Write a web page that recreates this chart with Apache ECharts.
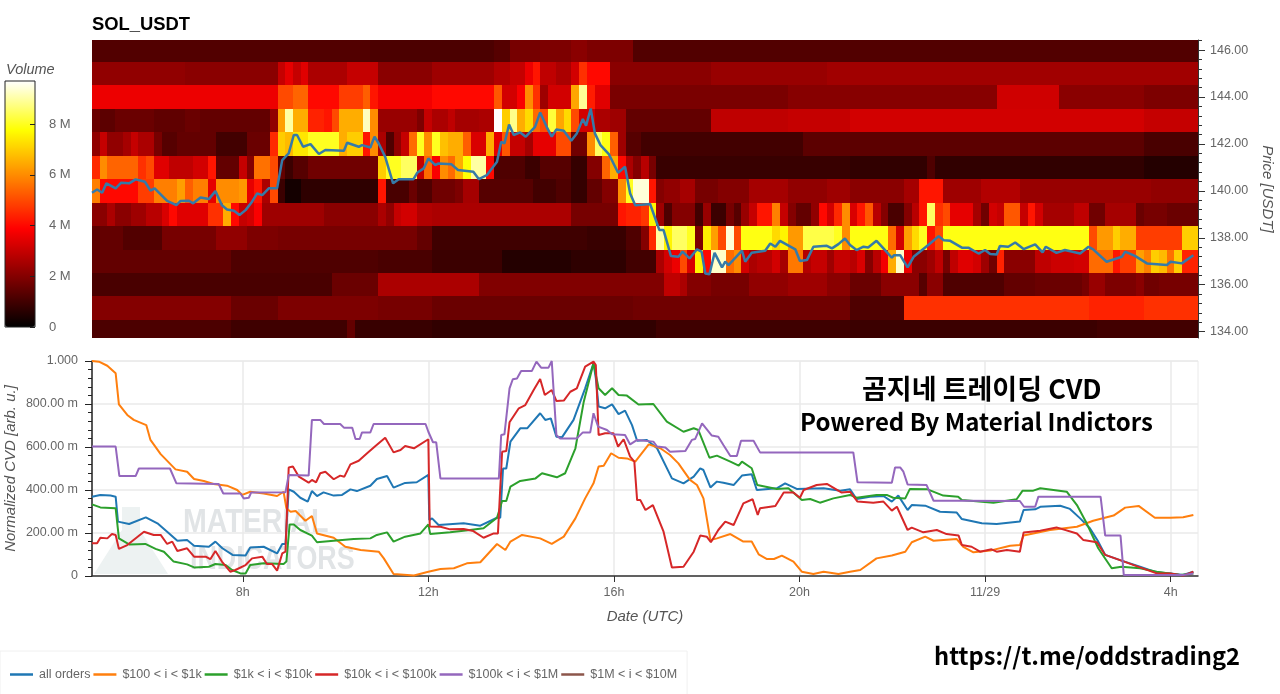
<!DOCTYPE html>
<html>
<head>
    <meta charset="utf-8">
    <title>SOL_USDT CVD</title>
    <script src="https://cdn.jsdelivr.net/npm/echarts@6/dist/echarts.min.js"></script>
    <style>
        html, body { margin: 0; padding: 0; background: #fff; }
    </style>
</head>
<body>
    <div id="main" style="width: 1280px;height:694px;"></div>
    <script>
        // hours are counted from 11/28 00:00 UTC, so 24 = 11/29 and 28 = 4h
        var xStart = 4.75, xEnd = 28.59;
        var xTicks = [8, 12, 16, 20, 24, 28];
        var xTickLabels = ['8h', '12h', '16h', '20h', '11/29', '4h'];
        var priceTicks = [134, 136, 138, 140, 142, 144, 146];
        var priceMinorTicks = [134, 134.4, 134.8, 135.2, 135.6, 136, 136.4, 136.8, 137.2, 137.6, 138, 138.4, 138.8, 139.2, 139.6, 140, 140.4, 140.8, 141.2, 141.6, 142, 142.4, 142.8, 143.2, 143.6, 144, 144.4, 144.8, 145.2, 145.6, 146, 146.4];
        var volumeTicks = [0, 2, 4, 6, 8];
        var legendNames = ['all orders', '$100 < i < $1k', '$1k < i < $10k', '$10k < i < $100k', '$100k < i < $1M', '$1M < i < $10M'];
        var lineColors = ['#1f77b4', '#ff7f0e', '#2ca02c', '#d62728', '#9467bd', '#8c564b'];

        // volume in millions per price level, as [first 10 minute column, volume] runs
        var vol146 = [[0,1.25],[36,1.15],[52,1.3],[54,1.8],[58,1.9],[62,2.1],[64,1.9],[70,1.25]];
        var vol145 = [[0,2.2],[12,2.1],[24,3.0],[25,3.5],[26,3.0],[27,3.4],[28,2.6],[33,3.0],[37,2.1],[44,2.4],[52,2.7],[54,3.0],[56,3.6],[57,4.2],[58,2.9],[60,2.6],[62,3.2],[63,4.6],[64,4.0],[67,2.1],[80,2.3],[95,2.45]];
        var vol144 = [[0,3.6],[24,5.0],[26,5.4],[28,4.0],[32,4.8],[35,5.3],[36,4.2],[37,3.7],[44,4.0],[52,5.2],[53,3.2],[55,3.8],[56,6.0],[57,4.6],[58,2.4],[59,3.2],[62,6.4],[63,8.9],[64,4.3],[65,3.4],[67,1.85],[90,2.05],[117,3.15],[125,2.1],[136,1.9]];
        var vol143 = [[0,1.6],[1,1.4],[3,1.6],[8,1.45],[12,1.6],[14,1.5],[23,2.2],[24,6.3],[25,9.0],[26,6.5],[28,4.4],[30,4.2],[31,5.0],[32,6.5],[35,9.2],[36,6.0],[37,2.3],[42,1.9],[43,3.0],[44,2.6],[46,2.9],[47,2.5],[50,2.6],[52,9.7],[53,7.0],[54,8.8],[55,6.5],[56,7.2],[57,5.5],[58,5.0],[59,8.2],[60,6.4],[61,7.2],[62,5.0],[63,3.2],[65,2.6],[67,2.4],[69,1.5],[80,2.9],[90,3.0],[98,3.2],[136,3.0]];
        var vol142 = [[0,2.2],[1,3.0],[2,2.2],[4,2.5],[5,3.0],[6,2.6],[8,1.8],[9,1.3],[11,1.5],[16,1.0],[20,1.6],[23,4.5],[24,7.0],[25,6.7],[26,7.4],[28,8.0],[32,6.5],[33,7.0],[35,4.2],[36,6.0],[37,2.6],[38,1.2],[39,2.2],[40,3.0],[41,5.5],[42,8.0],[43,6.0],[44,8.0],[45,6.8],[46,6.5],[48,5.3],[49,3.3],[51,6.5],[52,3.5],[53,5.2],[54,3.0],[56,2.5],[57,3.5],[60,5.0],[62,1.7],[64,6.0],[65,8.5],[66,7.9],[67,5.3],[68,2.4],[69,1.3],[71,1.0],[92,1.4],[136,1.1]];
        var vol141 = [[0,4.5],[1,6.0],[2,5.4],[6,4.6],[7,5.0],[8,3.4],[10,2.9],[13,3.2],[15,4.2],[16,1.5],[19,3.0],[20,2.0],[21,5.6],[23,5.0],[24,1.5],[25,0.9],[26,1.3],[28,1.7],[37,7.0],[38,8.0],[40,8.5],[42,3.0],[43,5.5],[44,3.8],[45,6.0],[46,5.5],[47,6.5],[48,7.8],[49,9.0],[51,4.0],[52,1.2],[56,0.9],[58,1.3],[62,0.8],[64,2.0],[66,5.4],[67,6.5],[68,4.0],[69,2.6],[70,2.0],[71,2.8],[72,1.8],[73,0.85],[98,0.75],[108,1.2],[109,0.75],[136,0.55]];
        var vol140 = [[0,5.8],[1,4.0],[6,4.8],[8,5.8],[11,6.3],[12,5.3],[13,5.8],[15,3.5],[16,6.0],[19,6.2],[20,3.5],[21,4.2],[22,2.6],[23,5.0],[24,0.9],[25,0.3],[27,0.7],[37,4.2],[38,1.1],[41,1.6],[42,1.2],[44,1.7],[47,1.9],[48,2.5],[50,1.3],[57,1.0],[60,1.2],[62,0.8],[64,1.5],[66,2.0],[68,6.0],[69,8.0],[70,9.4],[72,4.2],[73,2.0],[74,2.2],[76,2.5],[78,1.8],[81,2.0],[85,2.5],[90,2.2],[95,2.4],[98,2.1],[105,2.5],[107,4.2],[110,2.4],[115,2.7],[120,2.3],[137,2.2]];
        var vol139 = [[0,2.1],[2,2.6],[3,2.1],[5,2.4],[7,2.8],[9,3.3],[10,4.0],[11,3.4],[15,4.6],[17,6.5],[18,4.0],[19,3.0],[20,3.2],[21,3.8],[22,2.4],[30,2.1],[37,2.6],[38,2.2],[39,3.0],[40,3.2],[42,2.7],[44,2.6],[62,1.8],[68,4.2],[69,4.4],[71,4.7],[72,7.6],[73,2.4],[74,1.2],[75,2.0],[78,1.0],[79,2.3],[80,0.9],[82,1.8],[83,1.3],[84,2.3],[85,3.0],[86,4.2],[88,5.8],[89,3.0],[90,2.0],[91,1.5],[93,2.2],[94,4.0],[95,3.2],[96,4.5],[97,6.0],[98,3.3],[99,4.2],[100,5.2],[101,2.8],[102,2.0],[103,1.1],[105,2.0],[106,2.8],[107,4.2],[108,8.5],[109,4.6],[110,5.0],[111,3.5],[114,2.5],[115,1.7],[116,3.2],[117,3.0],[118,5.2],[120,3.0],[121,4.2],[122,3.2],[123,2.5],[127,2.9],[129,1.7],[131,2.5],[135,1.6],[136,1.8],[139,1.6]];
        var vol138 = [[0,1.4],[1,1.5],[4,1.25],[9,1.8],[16,2.2],[20,1.9],[24,1.8],[42,1.5],[44,0.95],[64,0.85],[69,1.2],[71,2.0],[72,4.5],[73,9.0],[74,7.6],[75,8.5],[77,8.0],[78,1.9],[79,7.5],[80,6.3],[81,5.0],[82,9.4],[83,5.0],[84,7.9],[88,7.2],[89,7.6],[90,6.2],[92,8.3],[96,8.0],[97,6.0],[98,7.9],[103,5.5],[104,3.2],[105,6.3],[106,7.2],[107,8.0],[108,4.2],[109,5.0],[110,7.9],[129,5.0],[130,6.2],[132,7.0],[133,6.5],[135,4.8],[141,7.0]];
        var vol137 = [[0,1.5],[18,1.2],[37,1.1],[44,0.9],[53,0.55],[62,0.7],[69,1.0],[73,2.6],[74,3.2],[75,3.6],[76,5.0],[77,3.3],[78,7.6],[79,4.0],[80,9.3],[82,5.5],[83,6.0],[84,3.2],[85,2.6],[86,2.8],[88,3.2],[89,2.5],[90,5.7],[92,2.7],[93,3.0],[95,2.4],[96,3.0],[98,2.8],[99,3.3],[100,2.0],[101,2.8],[102,3.7],[103,6.5],[104,9.3],[105,3.6],[106,2.1],[108,2.4],[109,2.9],[110,1.8],[111,2.9],[112,3.4],[114,3.2],[115,2.4],[116,1.7],[117,4.4],[118,2.1],[122,2.9],[124,3.1],[127,3.2],[129,5.5],[132,4.2],[133,4.8],[135,6.3],[136,5.8],[137,7.0],[138,6.7],[139,5.6],[140,7.0],[141,4.4]];
        var vol136 = [[0,1.1],[31,1.6],[37,2.6],[50,1.95],[74,2.9],[76,2.6],[77,2.0],[80,1.8],[85,2.2],[90,2.4],[95,2.1],[98,1.6],[102,2.1],[107,1.3],[108,2.1],[110,1.2],[118,1.5],[122,1.6],[128,1.8],[129,2.3],[131,1.9],[135,2.1],[136,1.7],[138,1.8]];
        var vol135 = [[0,2.0],[18,1.6],[24,1.9],[37,1.8],[44,1.6],[70,1.7],[98,1.2],[105,4.6],[129,4.4],[136,4.6]];
        var vol134 = [[0,1.15],[18,0.95],[33,1.5],[34,0.85],[44,0.75],[73,0.95],[98,0.9],[130,1.0]];
        var heatLevels = [146, 145, 144, 143, 142, 141, 140, 139, 138, 137, 136, 135, 134];
        var heatRuns = [vol146, vol145, vol144, vol143, vol142, vol141, vol140, vol139, vol138, vol137, vol136, vol135, vol134];

        // [hour, price]
        var priceLine = [[4.75,139.92],[4.86,140.06],[4.97,139.92],[5.06,140.32],[5.26,140.11],[5.38,140.35],[5.55,140.32],[5.69,140.49],[5.89,140.39],[6.01,140.01],[6.10,140.11],[6.37,139.57],[6.57,139.39],[6.66,139.57],[6.84,139.58],[6.93,139.47],[7.09,139.72],[7.27,139.65],[7.41,139.99],[7.55,139.39],[7.66,139.21],[7.81,139.15],[7.93,138.97],[8.06,139.18],[8.20,139.54],[8.31,139.89],[8.42,139.82],[8.56,140.11],[8.74,140.11],[8.85,141.31],[8.99,141.6],[9.10,142.38],[9.17,142.38],[9.30,141.88],[9.46,141.99],[9.64,141.57],[9.78,141.74],[10.18,141.71],[10.25,142.05],[10.50,141.88],[10.57,141.95],[10.75,141.85],[10.84,142.31],[10.93,142.02],[11.07,141.45],[11.24,140.32],[11.36,140.50],[11.68,140.50],[11.76,140.77],[11.90,140.96],[12,141.38],[12.15,141.10],[12.22,141.17],[12.50,141.13],[12.64,140.89],[12.97,140.82],[13.09,140.50],[13.26,140.67],[13.48,141.24],[13.57,142.09],[13.64,142.02],[13.74,142.83],[13.84,142.38],[13.98,142.49],[14.10,142.31],[14.30,142.73],[14.41,143.34],[14.55,142.73],[14.66,142.31],[14.76,142.62],[14.92,142.56],[15.08,142.14],[15.20,142.45],[15.33,143.06],[15.40,142.78],[15.50,143.51],[15.59,142.45],[15.71,141.95],[15.89,141.57],[16.09,140.77],[16.24,141.03],[16.35,139.89],[16.46,139.39],[16.78,139.44],[16.98,138.33],[17.07,138.33],[17.23,137.22],[17.39,137.19],[17.48,137.41],[17.63,137.12],[17.79,137.51],[17.89,137.41],[17.97,136.48],[18.06,136.45],[18.17,137.36],[18.33,136.74],[18.40,136.98],[18.47,136.84],[18.76,137.45],[18.83,136.98],[18.97,137.36],[19.26,137.45],[19.37,137.76],[19.48,137.62],[19.58,137.87],[19.91,137.51],[20.01,137.01],[20.16,137.05],[20.30,137.62],[20.59,137.66],[20.70,137.55],[20.84,137.73],[20.98,137.97],[21.09,137.69],[21.23,137.48],[21.38,137.62],[21.48,137.59],[21.66,137.87],[21.81,137.55],[21.99,137.15],[22.04,137.26],[22.17,137.26],[22.33,136.74],[22.46,137.19],[22.71,137.59],[22.86,137.83],[23.0,138.07],[23.11,137.90],[23.25,137.87],[23.50,137.58],[23.64,137.58],[23.86,137.33],[24,137.48],[24.11,137.31],[24.25,137.29],[24.32,137.65],[24.50,137.62],[24.65,137.80],[24.83,137.52],[25.08,137.72],[25.24,137.38],[25.31,137.62],[25.54,137.36],[25.72,137.48],[26.05,137.33],[26.23,137.62],[26.33,137.51],[26.62,136.98],[26.95,137.19],[27.02,137.41],[27.24,137.22],[27.49,136.91],[27.92,136.84],[28,136.98],[28.24,136.91],[28.49,137.26]];

        // [hour, normalized cvd]
        var cvdAll = [[4.75,.369],[4.93,.377],[5.15,.374],[5.26,.369],[5.31,.253],[5.55,.242],[5.91,.273],[6.16,.245],[6.37,.206],[6.59,.164],[6.80,.167],[6.95,.141],[7.27,.136],[7.41,.160],[7.56,.129],[7.78,.098],[8.06,.095],[8.16,.132],[8.45,.136],[8.74,.105],[8.85,.149],[8.92,.149],[8.99,.403],[9.10,.392],[9.24,.364],[9.40,.346],[9.49,.395],[9.60,.372],[9.74,.389],[9.96,.374],[10.14,.377],[10.32,.403],[10.46,.395],[10.75,.420],[10.89,.451],[11.11,.465],[11.25,.411],[11.50,.433],[11.75,.436],[12.0,.470],[12.02,.26],[12.08,.268],[12.22,.237],[12.76,.245],[13.12,.234],[13.48,.271],[13.55,.271],[13.61,.50],[13.68,.50],[13.77,.625],[13.98,.687],[14.13,.687],[14.41,.757],[14.52,.726],[14.64,.733],[14.76,.648],[14.88,.645],[15.13,.726],[15.38,.873],[15.56,.989],[15.61,.919],[15.67,.788],[15.81,.780],[15.96,.798],[16.10,.753],[16.24,.769],[16.39,.702],[16.50,.629],[16.71,.633],[16.93,.594],[17.25,.454],[17.50,.431],[17.72,.462],[17.86,.501],[17.93,.493],[18.08,.412],[18.22,.439],[18.36,.434],[18.58,.423],[18.76,.467],[18.97,.473],[19.08,.40],[19.51,.408],[19.69,.431],[19.94,.405],[20.52,.408],[20.88,.397],[21.09,.403],[21.23,.358],[21.52,.369],[21.81,.372],[21.99,.346],[22.13,.374],[22.33,.307],[22.42,.330],[22.71,.327],[23.03,.299],[23.39,.295],[23.50,.265],[23.93,.245],[24.25,.242],[24.75,.253],[24.83,.307],[25.08,.310],[25.19,.322],[25.62,.327],[25.83,.312],[26.05,.268],[26.26,.222],[26.44,.16],[26.59,.098],[26.91,.074],[27.34,.043],[27.70,.017],[28,.012],[28.27,.005],[28.49,.02]];
        var cvdRetail = [[4.75,1.0],[4.90,.997],[5.08,.978],[5.26,.943],[5.33,.798],[5.51,.749],[5.65,.726],[5.92,.702],[6.01,.633],[6.23,.567],[6.55,.496],[6.80,.485],[6.95,.451],[7.16,.442],[7.37,.428],[7.66,.420],[7.88,.40],[7.99,.377],[8.16,.392],[8.45,.384],[8.74,.372],[8.88,.392],[8.94,.315],[9.03,.299],[9.14,.302],[9.35,.257],[9.49,.279],[9.60,.198],[9.96,.178],[10.21,.136],[10.54,.121],[10.93,.113],[11.04,.082],[11.25,.009],[11.69,.002],[12,.02],[12.26,.033],[12.55,.036],[12.83,.059],[13.12,.064],[13.48,.149],[13.66,.121],[13.77,.16],[14.02,.191],[14.41,.175],[14.66,.149],[14.92,.183],[15.17,.268],[15.38,.361],[15.56,.431],[15.67,.509],[15.78,.513],[15.94,.571],[16.10,.55],[16.28,.547],[16.46,.532],[16.75,.612],[17.0,.594],[17.21,.563],[17.39,.524],[17.64,.447],[17.79,.423],[17.93,.361],[18.08,.167],[18.22,.175],[18.51,.195],[18.79,.16],[18.97,.16],[19.12,.101],[19.30,.079],[19.45,.079],[19.62,.095],[19.87,.067],[20.05,.02],[20.30,.009],[20.52,.02],[20.84,.009],[21.09,.02],[21.31,.028],[21.66,.082],[21.99,.095],[22.28,.113],[22.42,.157],[22.71,.183],[22.89,.164],[23.39,.172],[23.53,.136],[23.75,.11],[24.11,.118],[24.54,.141],[24.75,.144],[24.83,.188],[25.40,.214],[25.98,.229],[26.33,.257],[26.77,.281],[27.02,.318],[27.31,.326],[27.66,.271],[27.99,.271],[28.27,.273],[28.49,.284]];
        var cvdSmall = [[4.75,.333],[4.93,.319],[5.26,.315],[5.33,.175],[5.55,.147],[5.90,.149],[6.12,.126],[6.30,.113],[6.51,.067],[6.80,.054],[6.95,.04],[7.27,.043],[7.41,.056],[7.63,.051],[7.77,.028],[7.95,.012],[8.06,.012],[8.16,.051],[8.45,.059],[8.88,.056],[8.94,.067],[9.01,.24],[9.10,.24],[9.24,.214],[9.49,.188],[9.60,.157],[9.96,.164],[10.39,.172],[10.75,.175],[10.89,.191],[11.11,.203],[11.25,.16],[11.50,.183],[11.83,.198],[12,.24],[12.04,.195],[12.47,.203],[12.90,.214],[13.19,.222],[13.48,.271],[13.59,.349],[13.68,.349],[13.77,.416],[13.98,.442],[14.31,.454],[14.45,.478],[14.77,.459],[14.95,.478],[15.17,.594],[15.35,.811],[15.56,.989],[15.67,.873],[15.81,.842],[15.96,.873],[16.10,.842],[16.28,.839],[16.53,.798],[16.85,.80],[17.14,.718],[17.50,.671],[17.72,.687],[17.82,.679],[18.06,.55],[18.22,.56],[18.51,.532],[18.69,.513],[18.76,.532],[18.97,.501],[19.09,.423],[19.51,.405],[19.76,.408],[20.05,.353],[20.23,.358],[20.44,.341],[20.73,.361],[21.09,.377],[21.23,.364],[21.66,.377],[21.88,.377],[22.02,.364],[22.28,.361],[22.38,.405],[22.76,.403],[23.10,.374],[23.42,.369],[23.50,.353],[24.18,.341],[24.68,.357],[24.81,.397],[25.04,.397],[25.19,.408],[25.76,.392],[25.98,.33],[26.19,.245],[26.44,.129],[26.73,.036],[26.94,.043],[27.34,.036],[27.70,.02],[27.97,.012],[28.2,.005],[28.49,.012]];
        var cvdMedium = [[4.75,.152],[4.86,.152],[4.93,.178],[5.08,.175],[5.18,.195],[5.26,.191],[5.33,.126],[5.51,.144],[5.87,.206],[6.08,.191],[6.23,.191],[6.37,.149],[6.48,.16],[6.59,.116],[6.80,.129],[6.95,.09],[7.20,.09],[7.30,.078],[7.41,.116],[7.55,.067],[7.73,.02],[7.84,.028],[8.06,.051],[8.20,.082],[8.42,.09],[8.52,.056],[8.63,.056],[8.74,.025],[8.85,.105],[8.92,.113],[8.99,.505],[9.08,.509],[9.21,.462],[9.42,.434],[9.49,.447],[9.58,.436],[9.67,.478],[9.78,.485],[9.96,.45],[10.10,.467],[10.19,.462],[10.32,.519],[10.50,.536],[10.68,.571],[10.86,.605],[11.07,.643],[11.25,.575],[11.40,.586],[11.50,.605],[11.69,.594],[12.0,.636],[12.03,.23],[12.26,.229],[12.47,.217],[12.76,.219],[12.97,.209],[13.19,.178],[13.41,.198],[13.50,.198],[13.59,.578],[13.68,.581],[13.75,.715],[13.95,.78],[14.09,.795],[14.27,.865],[14.41,.916],[14.51,.842],[14.66,.865],[14.76,.814],[14.92,.816],[15.06,.857],[15.20,.873],[15.38,.974],[15.56,.997],[15.61,.981],[15.67,.656],[15.81,.664],[15.99,.664],[16.09,.602],[16.21,.636],[16.35,.555],[16.44,.532],[16.50,.353],[16.57,.353],[16.68,.307],[16.84,.33],[17.07,.206],[17.25,.04],[17.50,.043],[17.72,.113],[17.86,.188],[18.0,.183],[18.09,.157],[18.25,.214],[18.40,.253],[18.58,.237],[18.79,.338],[18.99,.357],[19.10,.284],[19.15,.315],[19.48,.326],[19.66,.388],[19.87,.388],[20.01,.364],[20.09,.40],[20.37,.423],[20.59,.428],[20.91,.388],[21.09,.392],[21.25,.346],[21.59,.341],[21.81,.346],[21.99,.304],[22.10,.322],[22.33,.214],[22.42,.225],[22.67,.203],[22.96,.214],[23.17,.195],[23.43,.188],[23.50,.144],[23.71,.136],[23.89,.113],[24.14,.124],[24.25,.113],[24.47,.121],[24.75,.113],[24.83,.202],[25.19,.211],[25.54,.226],[25.98,.198],[26.12,.167],[26.41,.157],[26.59,.098],[26.91,.074],[27.34,.04],[27.70,.012],[27.99,.012],[28.27,.002],[28.49,.02]];
        var cvdLarge = [[4.75,.602],[5.26,.602],[5.34,.465],[5.69,.465],[5.76,.50],[6.43,.50],[6.57,.431],[7.48,.428],[7.58,.384],[7.95,.384],[8.02,.361],[8.13,.364],[8.18,.388],[8.92,.389],[8.99,.47],[9.42,.467],[9.49,.726],[9.67,.726],[9.75,.707],[10.10,.707],[10.18,.69],[10.36,.69],[10.43,.637],[10.52,.637],[10.57,.668],[10.75,.668],[10.82,.707],[11.94,.707],[12,.671],[12.10,.622],[12.17,.622],[12.26,.454],[13.52,.454],[13.57,.656],[13.64,.659],[13.75,.873],[13.82,.915],[13.91,.919],[14.0,.953],[14.23,.953],[14.33,.997],[14.43,.969],[14.59,.969],[14.66,1],[14.76,.656],[14.84,.64],[15.2,.64],[15.33,.668],[15.49,.668],[15.56,.757],[15.66,.695],[15.85,.679],[15.96,.659],[16.24,.656],[16.35,.612],[16.5,.633],[16.85,.625],[16.93,.602],[17.11,.598],[17.21,.578],[17.54,.581],[17.68,.633],[17.75,.637],[17.90,.71],[18.11,.653],[18.25,.648],[18.36,.609],[18.51,.558],[18.65,.558],[18.74,.629],[19.01,.629],[19.15,.575],[21.16,.575],[21.25,.436],[21.99,.434],[22.06,.505],[22.17,.505],[22.24,.485],[22.33,.426],[22.74,.423],[22.89,.35],[23.39,.35],[24.75,.349],[24.84,.322],[25.08,.322],[25.15,.369],[26.49,.369],[26.59,.188],[26.92,.188],[26.99,.005],[28.27,.005],[28.49,.012]];
        var cvdWhale = [];
        var cvdLines = [cvdAll, cvdRetail, cvdSmall, cvdMedium, cvdLarge, cvdWhale];

        var myChart = echarts.init(document.getElementById("main"));

        // turn the runs into [startHour, endHour, price, volume] items
        var colHours = 1 / 6;
        var colCount = 143;
        var heatData = [];
        heatRuns.forEach(function (runs, r) {
            runs.forEach(function (run, i) {
                var next = i + 1 < runs.length ? runs[i + 1][0] : colCount;
                heatData.push([xStart + run[0] * colHours, xStart + next * colHours, heatLevels[r], run[1]]);
            });
        });

        function renderCell(params, api) {
            var topLeft = api.coord([api.value(0), api.value(2) + 0.5]);
            var bottomRight = api.coord([api.value(1), api.value(2) - 0.5]);
            var x0 = Math.round(topLeft[0]), y0 = Math.round(topLeft[1]);
            return {
                type: 'rect',
                shape: {
                    x: x0,
                    y: y0,
                    width: Math.round(bottomRight[0]) - x0,
                    height: Math.round(bottomRight[1]) - y0
                },
                style: { fill: api.visual('color') }
            };
        }

        var labelColor = '#666';
        var labelSize = 12.5;
        var nameStyle = { fontStyle: 'italic', fontSize: 15, color: '#555' };
        var noteFont = '"Noto Sans CJK KR", "Noto Sans", sans-serif';

        var series = [{
            name: 'Volume',
            type: 'custom',
            coordinateSystem: 'cartesian2d',
            xAxisIndex: 0,
            yAxisIndex: 0,
            clip: true,
            silent: true,
            renderItem: renderCell,
            encode: { x: [0, 1], y: 2 },
            data: heatData
        }, {
            name: 'Price',
            type: 'line',
            xAxisIndex: 0,
            yAxisIndex: 0,
            symbol: 'none',
            z: 3,
            lineStyle: { color: '#357aa8', width: 2.5 },
            data: priceLine
        }];
        legendNames.forEach(function (name, i) {
            series.push({
                name: name,
                type: 'line',
                xAxisIndex: 1,
                yAxisIndex: 2,
                symbol: 'none',
                itemStyle: { color: lineColors[i] },
                lineStyle: { color: lineColors[i], width: 2 },
                data: cvdLines[i]
            });
        });

        var option = {
            animation: false,
            backgroundColor: '#fff',
            textStyle: { fontFamily: '"Liberation Sans", Arial, sans-serif' },
            title: [
                { text: 'SOL_USDT', left: 92, top: 16, padding: 0, textStyle: { fontSize: 18.4, fontWeight: 'bold', color: '#000' } },
                { text: 'Volume', left: 6, top: 62, padding: 0, textStyle: { fontSize: 14.5, fontWeight: 'normal', fontStyle: 'italic', color: '#555' } },
                { text: '곰지네 트레이딩 CVD', left: 862, top: 375, padding: 0, textStyle: { fontSize: 27, fontWeight: 'bold', color: '#000', fontFamily: noteFont } },
                { text: 'Powered By Material Indictors', left: 800, top: 410, padding: 0, textStyle: { fontSize: 24, fontWeight: 'bold', color: '#000', fontFamily: noteFont } },
                { text: 'https://t.me/oddstrading2', left: 934, top: 644, padding: 0, textStyle: { fontSize: 23.7, fontWeight: 'bold', color: '#000', fontFamily: noteFont } }
            ],
            graphic: [
                { type: 'polygon', z: 1, silent: true, shape: { points: [[122, 507], [140, 507], [140, 530], [168, 574], [94, 574], [122, 530]] }, style: { fill: '#edf2f2' } },
                { type: 'text', z: 1, silent: true, x: 183, y: 506, scaleX: 0.84, style: { text: 'MATERIAL', fill: '#e1e4e6', font: 'bold 34px "Liberation Sans"' } },
                { type: 'text', z: 1, silent: true, x: 190, y: 543, scaleX: 0.79, style: { text: 'INDICATORS', fill: '#e1e4e6', font: 'bold 34px "Liberation Sans"' } }
            ],
            legend: {
                data: legendNames,
                left: 0,
                top: 651,
                padding: [17, 10, 17, 10],
                icon: 'rect',
                itemWidth: 23,
                itemHeight: 2.5,
                itemGap: 3,
                textStyle: { fontSize: 12.5, color: labelColor, padding: [0, 0, 0, 1] },
                borderColor: '#f0f0f0',
                borderWidth: 1
            },
            visualMap: {
                type: 'continuous',
                seriesIndex: 0,
                dimension: 3,
                min: 0,
                max: 9.7,
                left: 5,
                top: 81,
                padding: 0,
                itemWidth: 30,
                itemHeight: 246,
                calculable: false,
                hoverLink: false,
                text: ['', ''],
                showLabel: false,
                inRange: { color: ['#000000', '#800000', '#ff0000', '#ff8000', '#ffff00', '#ffffff'] }
            },
            grid: [
                { left: 92, right: 82, top: 40, height: 298, outerBoundsMode: 'none' },
                { left: 92, right: 82, top: 361, height: 215, show: true, borderColor: '#eaeaea', outerBoundsMode: 'none' },
                { left: 5, width: 30, top: 81, height: 246, show: true, z: 5, borderColor: '#222', borderWidth: 1, backgroundColor: 'transparent', outerBoundsMode: 'none' }
            ],
            xAxis: [
                { type: 'value', gridIndex: 0, min: xStart, max: xEnd, show: false },
                {
                    type: 'value',
                    gridIndex: 1,
                    min: xStart,
                    max: xEnd,
                    name: 'Date (UTC)',
                    nameLocation: 'middle',
                    nameGap: 33,
                    nameTextStyle: nameStyle,
                    axisLine: { lineStyle: { color: '#333', width: 1.5 } },
                    axisTick: { length: 6, lineStyle: { color: '#333' }, customValues: xTicks },
                    axisLabel: {
                        color: labelColor,
                        fontSize: labelSize,
                        margin: 10,
                        customValues: xTicks,
                        formatter: function (value) {
                            return xTickLabels[xTicks.indexOf(value)];
                        }
                    },
                    splitLine: { show: true, lineStyle: { color: '#eaeaea', width: 1.5 } }
                },
                { type: 'value', gridIndex: 2, min: 0, max: 1, show: false }
            ],
            yAxis: [
                {
                    type: 'value',
                    gridIndex: 0,
                    position: 'right',
                    min: 133.73,
                    max: 146.43,
                    name: 'Price [USDT]',
                    nameLocation: 'middle',
                    nameRotate: -90,
                    nameGap: 62,
                    nameTextStyle: nameStyle,
                    splitLine: { show: false },
                    axisLine: { show: true, lineStyle: { color: '#333' } },
                    axisTick: { show: true, length: 7, lineStyle: { color: '#333' }, customValues: priceTicks },
                    axisLabel: {
                        color: labelColor,
                        fontSize: labelSize,
                        margin: 12,
                        customValues: priceTicks,
                        formatter: function (value) { return value.toFixed(2); }
                    }
                },
                {
                    type: 'value',
                    gridIndex: 0,
                    position: 'right',
                    min: 133.73,
                    max: 146.43,
                    splitLine: { show: false },
                    axisLine: { show: false },
                    axisLabel: { show: false },
                    axisTick: { show: true, length: 4, lineStyle: { color: '#333' }, customValues: priceMinorTicks }
                },
                {
                    type: 'value',
                    gridIndex: 1,
                    min: 0,
                    max: 1,
                    interval: 0.2,
                    name: 'Normalized CVD [arb. u.]',
                    nameLocation: 'middle',
                    nameGap: 74,
                    nameMoveOverlap: false,
                    nameTextStyle: nameStyle,
                    axisLine: { show: true, lineStyle: { color: '#222', width: 1.5 } },
                    axisTick: { show: true, length: 7, lineStyle: { color: '#222' } },
                    minorTick: { show: true, splitNumber: 5, length: 4, lineStyle: { color: '#222' } },
                    axisLabel: {
                        color: labelColor,
                        fontSize: labelSize,
                        margin: 14,
                        formatter: function (value) {
                            if (value === 0) return '0';
                            if (value === 1) return '1.000';
                            return (value * 1000).toFixed(2) + ' m';
                        }
                    },
                    splitLine: { show: true, lineStyle: { color: '#eaeaea', width: 1.5 } }
                },
                {
                    type: 'value',
                    gridIndex: 2,
                    position: 'right',
                    min: 0,
                    max: 9.7,
                    z: 6,
                    splitLine: { show: false },
                    axisLine: { show: false, onZero: false },
                    axisTick: { show: true, inside: true, length: 5, lineStyle: { color: '#222' }, customValues: volumeTicks },
                    axisLabel: {
                        color: labelColor,
                        fontSize: 13,
                        margin: 14,
                        customValues: volumeTicks,
                        formatter: function (value) { return value === 0 ? '0' : value + ' M'; }
                    }
                }
            ],
            series: series
        };

        myChart.setOption(option);
    </script>
</body>
</html>
